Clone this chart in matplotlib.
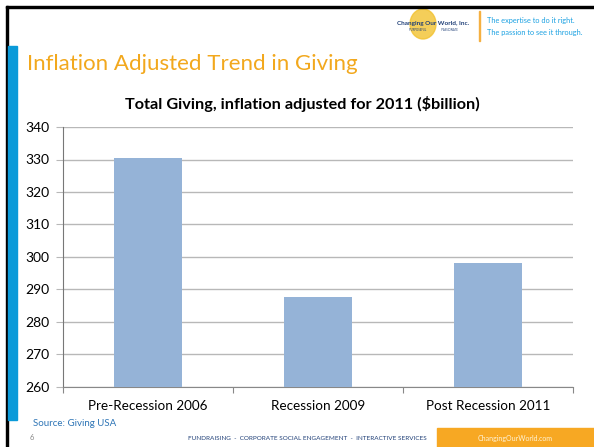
import matplotlib.pyplot as plt
from matplotlib.patches import Rectangle, Ellipse

categories = ["Pre-Recession 2006", "Recession 2009", "Post Recession 2011"]
giving = [330.5, 287.7, 298.3]
yticks = [260, 270, 280, 290, 300, 310, 320, 330, 340]

W, H = 594, 447
plt.rcParams['font.family'] = ['Lato', 'DejaVu Sans']

fig = plt.figure(figsize=(W / 100, H / 100), dpi=100)


def fx(x):
    return x / W


def fy(y):
    return 1 - y / H


# slide frame
fig.patches.append(Rectangle((fx(5.5), 0), fx(2.5), fy(5.5), transform=fig.transFigure,
                             color='black', zorder=5))
fig.patches.append(Rectangle((fx(5.5), fy(8)), 1, fx(2.5) * W / H, transform=fig.transFigure,
                             color='black', zorder=5))
fig.patches.append(Rectangle((fx(8), fy(420)), fx(8.5), fy(46) - fy(420),
                             transform=fig.transFigure, color='#0A9AD9', zorder=5))

# header logo + tagline
fig.patches.append(Ellipse((fx(423), fy(24)), fx(26), 30 / H, transform=fig.transFigure,
                           color='#F2C230', alpha=0.8, zorder=4))
fig.text(fx(433), fy(23), "Changing Our World, Inc.", fontsize=4.6, color='#1F3F77',
         ha='center', va='center', weight='bold', zorder=6)
fig.text(fx(433), fy(30), "PURPOSEFUL                    PASSIONATE", fontsize=2,
         color='#1F3F77', ha='center', va='center', zorder=6)
fig.patches.append(Rectangle((fx(479), fy(41)), fx(1), fy(11) - fy(41),
                             transform=fig.transFigure, color='#F5B041', zorder=5))
fig.text(fx(487), fy(20), "The expertise to do it right.", fontsize=5.3, color='#1BA1E2',
         va='center')
fig.text(fx(487), fy(32), "The passion to see it through.", fontsize=5.3, color='#1BA1E2',
         va='center')

# slide title
fig.text(fx(27), fy(64), "Inflation Adjusted Trend in Giving", fontsize=16, color='#F2A81D',
         va='center')

# chart
ax = fig.add_axes([fx(63), fy(387), fx(573) - fx(63), fy(127) - fy(387)])
x = range(len(categories))
ax.bar(x, giving, width=0.4, color='#95B3D7', zorder=3)
ax.set_ylim(260, 340)
ax.set_xlim(-0.5, 2.5)
ax.set_yticks(yticks)
ax.grid(axis='y', color='#B8B8B8', linewidth=1, zorder=0)
ax.set_xticks([-0.5, 0.5, 1.5, 2.5], minor=False)
ax.set_xticklabels([])
ax.set_xticks(list(x), minor=True)
ax.set_xticklabels(categories, minor=True, fontsize=9.7)
ax.tick_params(axis='x', which='minor', length=0, pad=9)
ax.tick_params(axis='x', which='major', length=4, color='#888888')
ax.tick_params(axis='y', length=5, color='#B8B8B8', labelsize=10, pad=5)
for s in ['top', 'right']:
    ax.spines[s].set_visible(False)
ax.spines['left'].set_color('#777777')
ax.spines['bottom'].set_color('#888888')
ax.set_title("Total Giving, inflation adjusted for 2011 ($billion)", fontsize=11.7,
             weight='bold', pad=13, x=0.47)

# footer
fig.text(fx(33), fy(424), "Source: Giving USA", fontsize=7, color='#2E75B6', va='center')
fig.text(fx(30), fy(437), "6", fontsize=5.5, color='#888888', va='center')
fig.text(fx(188), fy(438), "FUNDRAISING  -  CORPORATE SOCIAL ENGAGEMENT  -  INTERACTIVE SERVICES",
         fontsize=4.6, color='#1F3F77', va='center')
fig.patches.append(Rectangle((fx(437), 0), 1, fy(428), transform=fig.transFigure,
                             color='#F7A823', zorder=4))
fig.text(fx(515), fy(438), "ChangingOurWorld.com", fontsize=5, color='#FFF3D6',
         ha='center', va='center', zorder=6)

fig.savefig('out.png', dpi=100)
